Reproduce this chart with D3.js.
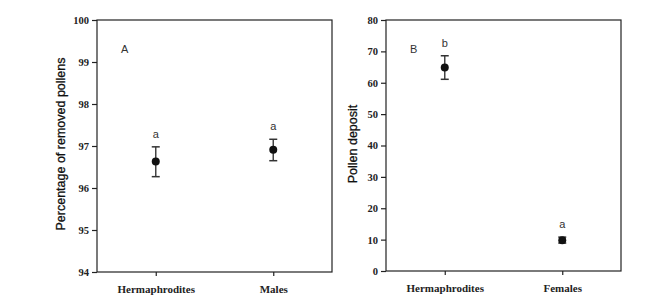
<!DOCTYPE html>
<html>
<head>
<meta charset="utf-8">
<script src="https://cdn.jsdelivr.net/npm/d3@7"></script>
<style>
  body { margin: 0; background: #fff; }
  svg { display: block; }
</style>
</head>
<body>
<script>
const WIDTH = 665;
const HEIGHT = 304;
const SERIF = "'Liberation Serif', 'Times New Roman', serif";
const SANS = "'Liberation Sans', Arial, sans-serif";

// panel A
var catsA = ['Hermaphrodites', 'Males'];
var meanA = [96.63, 96.91];
var lowA = [96.27, 96.65];
var highA = [96.98, 97.16];
var lettersA = ['a', 'a'];
var ticksA = [94, 95, 96, 97, 98, 99, 100];

// panel B
var catsB = ['Hermaphrodites', 'Females'];
var meanB = [64.9, 9.8];
var lowB = [61.1, 8.9];
var highB = [68.6, 10.8];
var lettersB = ['b', 'a'];
var ticksB = [0, 10, 20, 30, 40, 50, 60, 70, 80];

var svg = d3.select('body').append('svg')
    .attr('width', WIDTH)
    .attr('height', HEIGHT);

var drawPanel = function (opt) {
    var x = d3.scaleLinear().domain([0.5, 2.5]).range([opt.left, opt.right]);
    var y = d3.scaleLinear().domain(opt.domain).range([opt.bottom, opt.top]);
    var g = svg.append('g');

    // frame
    g.append('rect')
        .attr('x', opt.left)
        .attr('y', opt.top)
        .attr('width', opt.right - opt.left)
        .attr('height', opt.bottom - opt.top)
        .attr('fill', 'none')
        .attr('stroke', '#222')
        .attr('stroke-width', 1.2);

    var yAxis = d3.axisLeft(y).tickValues(opt.ticks).tickSize(5).tickPadding(3)
        .tickFormat(d3.format('d'));
    var ya = g.append('g')
        .attr('transform', 'translate(' + opt.left + ',0)')
        .call(yAxis);
    ya.select('.domain').remove();
    ya.selectAll('line').attr('stroke', '#222').attr('stroke-width', 1.2);
    ya.selectAll('text')
        .style('font-family', SERIF)
        .style('font-weight', 'bold')
        .style('font-size', '10.5px')
        .attr('fill', '#222');

    var xAxis = d3.axisBottom(x).tickValues([1, 2]).tickSize(4).tickPadding(9)
        .tickFormat(function (d) { return opt.cats[d - 1]; });
    var xa = g.append('g')
        .attr('transform', 'translate(0,' + opt.bottom + ')')
        .call(xAxis);
    xa.select('.domain').remove();
    xa.selectAll('line').attr('stroke', '#222').attr('stroke-width', 1.2);
    xa.selectAll('text')
        .style('font-family', SERIF)
        .style('font-weight', 'bold')
        .style('font-size', '11px')
        .attr('fill', '#222');

    // y title
    g.append('text')
        .attr('transform', 'translate(' + opt.titleX + ',' + opt.titleY + ') rotate(-90)')
        .attr('text-anchor', 'middle')
        .style('font-family', SANS)
        .style('font-size', '12.5px')
        .attr('fill', '#111')
        .attr('stroke', '#111')
        .attr('stroke-width', 0.3)
        .text(opt.title);

    // panel letter
    g.append('text')
        .attr('x', opt.left + opt.letterDx)
        .attr('y', opt.top + 33)
        .style('font-family', SANS)
        .style('font-size', '11px')
        .attr('fill', '#333')
        .text(opt.letter);

    var pts = opt.means.map(function (m, i) {
        return {x: i + 1, m: m, lo: opt.low[i], hi: opt.high[i], s: opt.sig[i]};
    });

    var eb = g.selectAll('.eb').data(pts).enter().append('g');
    eb.append('line')
        .attr('x1', function (d) { return x(d.x); })
        .attr('x2', function (d) { return x(d.x); })
        .attr('y1', function (d) { return y(d.lo); })
        .attr('y2', function (d) { return y(d.hi); })
        .attr('stroke', '#444').attr('stroke-width', 1.5);
    [ 'lo', 'hi' ].forEach(function (k) {
        eb.append('line')
            .attr('x1', function (d) { return x(d.x) - 4; })
            .attr('x2', function (d) { return x(d.x) + 4; })
            .attr('y1', function (d) { return y(d[k]); })
            .attr('y2', function (d) { return y(d[k]); })
            .attr('stroke', '#333').attr('stroke-width', 1.5);
    });
    eb.append('circle')
        .attr('cx', function (d) { return x(d.x); })
        .attr('cy', function (d) { return y(d.m); })
        .attr('r', 4)
        .attr('fill', '#111');
    eb.append('text')
        .attr('x', function (d) { return x(d.x); })
        .attr('y', function (d) { return y(d.hi) - 9; })
        .attr('text-anchor', 'middle')
        .style('font-family', SANS)
        .style('font-size', '11px')
        .attr('fill', '#333')
        .text(function (d) { return d.s; });
};

drawPanel({
    left: 97, right: 332, top: 20, bottom: 272,
    domain: [94, 100], ticks: ticksA, cats: catsA,
    means: meanA, low: lowA, high: highA, sig: lettersA,
    title: 'Percentage of removed pollens', titleX: 65, titleY: 144,
    letter: 'A', letterDx: 24
});

drawPanel({
    left: 386, right: 621, top: 20, bottom: 271,
    domain: [0, 80], ticks: ticksB, cats: catsB,
    means: meanB, low: lowB, high: highB, sig: lettersB,
    title: 'Pollen deposit', titleX: 357, titleY: 144,
    letter: 'B', letterDx: 24
});
</script>
</body>
</html>
